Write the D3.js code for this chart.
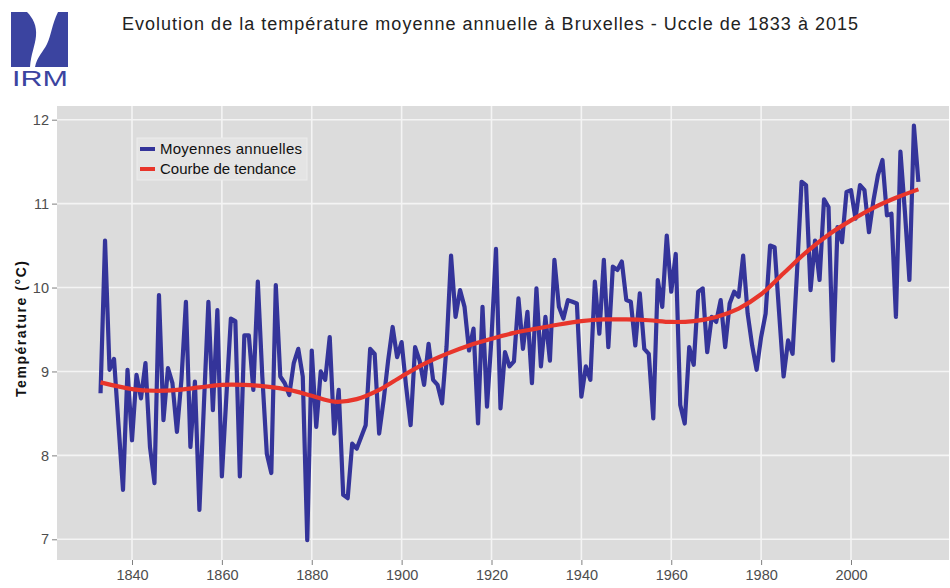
<!DOCTYPE html>
<html>
<head>
<meta charset="utf-8">
<script src="https://cdn.jsdelivr.net/npm/d3@7"></script>
<style>
  body { margin: 0; background: #fff; }
  text { font-family: "Liberation Sans", Arial, sans-serif; }
</style>
</head>
<body>
<script>
// annual mean temperature, Uccle
var startYear = 1833, endYear = 2015;
var temps = [
  8.74, 10.56, 9.02, 9.15, 8.36, 7.59, 9.02, 8.18, 8.96, 8.68,   // 1833-1842
  9.10, 8.10, 7.67, 9.91, 8.42, 9.04, 8.86, 8.28, 8.90, 9.83,   // 1843-1852
  8.10, 8.88, 7.35, 8.60, 9.83, 8.54, 9.73, 7.75, 8.70, 9.63,   // 1853-1862
  9.60, 7.75, 9.43, 9.43, 8.78, 10.07, 8.94, 8.02, 7.79, 10.03, // 1863-1872
  8.94, 8.86, 8.72, 9.10, 9.27, 8.94, 6.99, 9.25, 8.34, 9.00,   // 1873-1882
  8.90, 9.41, 8.26, 8.78, 7.53, 7.49, 8.14, 8.08, 8.22, 8.36,   // 1883-1892
  9.27, 9.21, 8.26, 8.66, 9.13, 9.53, 9.17, 9.35, 8.82, 8.36,   // 1893-1902
  9.29, 9.13, 8.84, 9.33, 8.90, 8.84, 8.62, 9.30, 10.38, 9.65,  // 1903-1912
  9.97, 9.77, 9.25, 9.51, 8.38, 9.77, 8.58, 9.40, 10.46, 8.56,  // 1913-1922
  9.23, 9.06, 9.12, 9.87, 9.27, 9.71, 8.86, 9.99, 9.06, 9.65,   // 1923-1932
  9.13, 10.33, 9.77, 9.63, 9.85, 9.83, 9.81, 8.70, 9.06, 8.90,  // 1933-1942
  10.07, 9.45, 10.33, 9.29, 10.25, 10.21, 10.31, 9.85, 9.83, 9.31, // 1943-1952
  9.93, 9.27, 9.21, 8.44, 10.09, 9.77, 10.62, 9.95, 10.40, 8.60, // 1953-1962
  8.38, 9.29, 9.08, 9.95, 9.99, 9.23, 9.65, 9.59, 9.85, 9.29,   // 1963-1972
  9.81, 9.95, 9.89, 10.38, 9.69, 9.31, 9.02, 9.41, 9.69, 10.50, // 1973-1982
  10.48, 9.70, 8.94, 9.37, 9.21, 10.20, 11.26, 11.22, 9.97, 10.56, // 1983-1992
  10.09, 11.05, 10.96, 9.13, 10.72, 10.54, 11.14, 11.16, 10.82, 11.22, // 1993-2002
  11.16, 10.66, 11.04, 11.34, 11.52, 10.86, 10.88, 9.65, 11.62, 10.90, // 2003-2012
  10.09, 11.93, 11.26                                            // 2013-2015
];
var years = d3.range(startYear, endYear + 1);

// smoothed trend curve
var trendYears = [1833, 1840, 1845, 1850, 1855, 1860, 1865, 1870, 1875, 1880, 1885, 1890, 1895,
  1900, 1905, 1910, 1915, 1920, 1925, 1930, 1935, 1940, 1945, 1950, 1955, 1960, 1965,
  1970, 1975, 1980, 1985, 1990, 1995, 2000, 2005, 2010, 2015];
var trendVals = [8.87, 8.79, 8.77, 8.78, 8.81, 8.84, 8.84, 8.82, 8.78, 8.71, 8.64, 8.67, 8.78,
  8.94, 9.09, 9.21, 9.31, 9.39, 9.46, 9.51, 9.56, 9.60, 9.62, 9.62, 9.61, 9.59, 9.60,
  9.65, 9.75, 9.92, 10.17, 10.42, 10.63, 10.80, 10.95, 11.07, 11.17];

var xTicks = [1840, 1860, 1880, 1900, 1920, 1940, 1960, 1980, 2000];
var yTicks = [7, 8, 9, 10, 11, 12];
var legendLabels = ["Moyennes annuelles", "Courbe de tendance"];

var W = 950, H = 588;
var panel = {left: 57, right: 949, top: 106, bottom: 560};

var svg = d3.select("body").append("svg")
    .attr("width", W)
    .attr("height", H);

var x = d3.scaleLinear().domain([1840, 2000]).range([132, 851]);
var y = d3.scaleLinear().domain([7, 12]).range([539.3, 119.7]);

// panel background
svg.append("rect")
    .attr("x", panel.left).attr("y", panel.top)
    .attr("width", panel.right - panel.left).attr("height", panel.bottom - panel.top)
    .attr("fill", "#dcdcdc");

// grid
svg.append("g").selectAll("line").data(yTicks).enter().append("line")
    .attr("x1", panel.left).attr("x2", panel.right)
    .attr("y1", function(d) { return y(d); }).attr("y2", function(d) { return y(d); })
    .attr("stroke", "#f4f4f4").attr("stroke-width", 1.6);
svg.append("g").selectAll("line").data(xTicks).enter().append("line")
    .attr("y1", panel.top).attr("y2", panel.bottom)
    .attr("x1", function(d) { return x(d); }).attr("x2", function(d) { return x(d); })
    .attr("stroke", "#f4f4f4").attr("stroke-width", 1.6);

// axes
var xAxis = d3.axisBottom(x).tickValues(xTicks).tickFormat(d3.format("d")).tickSize(5).tickPadding(5);
var gx = svg.append("g").attr("transform", "translate(0," + panel.bottom + ")").call(xAxis);
var yAxis = d3.axisLeft(y).tickValues(yTicks).tickFormat(d3.format("d")).tickSize(5).tickPadding(3);
var gy = svg.append("g").attr("transform", "translate(" + panel.left + ",0)").call(yAxis);
[gx, gy].forEach(function(g) {
    g.select(".domain").remove();
    g.selectAll(".tick line").attr("stroke", "#7f7f7f");
    g.selectAll(".tick text").attr("fill", "#4d4d4d")
        .style("font-size", "14.5px").style("font-family", "'Liberation Sans', Arial, sans-serif");
});

// y title
svg.append("text")
    .attr("transform", "translate(26," + 329 + ") rotate(-90)")
    .attr("text-anchor", "middle")
    .style("font-size", "14px").style("font-weight", "bold")
    .attr("textLength", 136).attr("lengthAdjust", "spacing")
    .attr("fill", "#111")
    .text("Température (°C)");

// lines
svg.append("clipPath").attr("id", "clip").append("rect")
    .attr("x", panel.left).attr("y", panel.top)
    .attr("width", panel.right - panel.left).attr("height", panel.bottom - panel.top);

var line = d3.line()
    .x(function(d, i) { return x(years[i]); })
    .y(function(d) { return y(d); });

svg.append("path")
    .datum(temps)
    .attr("clip-path", "url(#clip)")
    .attr("d", line)
    .attr("fill", "none")
    .attr("stroke", "#34349a")
    .attr("stroke-width", 4.2)
    .attr("stroke-linejoin", "round");

var trendLine = d3.line()
    .x(function(d, i) { return x(trendYears[i]); })
    .y(function(d) { return y(d); })
    .curve(d3.curveCatmullRom);

svg.append("path")
    .datum(trendVals)
    .attr("d", trendLine)
    .attr("fill", "none")
    .attr("stroke", "#e8352b")
    .attr("stroke-width", 4.2);

// legend
var legend = svg.append("g").attr("transform", "translate(137,138)");
legend.append("rect")
    .attr("width", 170).attr("height", 42)
    .attr("fill", "#e4e4e4").attr("stroke", "#ececec");
var colors = ["#34349a", "#e8352b"];
legendLabels.forEach(function(lab, i) {
    legend.append("line")
        .attr("x1", 3).attr("x2", 18)
        .attr("y1", 11 + i * 20).attr("y2", 11 + i * 20)
        .attr("stroke", colors[i]).attr("stroke-width", 4);
    legend.append("text")
        .attr("x", 23).attr("y", 16 + i * 20)
        .style("font-size", "15px").attr("fill", "#111")
        .attr("textLength", i == 0 ? 142 : 136).attr("lengthAdjust", "spacing")
        .text(lab);
});

// title
svg.append("text")
    .attr("x", 490).attr("y", 30)
    .attr("text-anchor", "middle")
    .style("font-size", "18px").attr("fill", "#222")
    .attr("textLength", 736).attr("lengthAdjust", "spacing")
    .text("Evolution de la température moyenne annuelle à Bruxelles - Uccle de 1833 à 2015");

// IRM logo
var logo = svg.append("g");
logo.append("rect").attr("x", 11).attr("y", 12).attr("width", 57).attr("height", 55).attr("fill", "#3b44a0");
logo.append("path")
    .attr("d", "M27,12 C33,18 37,26 36,36 C35,46 31,54 30,67 L35,67 C37,57 43,52 47,44 C51,36 52,24 58,12 Z")
    .attr("fill", "#fff");
logo.append("text")
    .attr("x", 12).attr("y", 86)
    .style("font-size", "22px")
    .attr("textLength", 56).attr("lengthAdjust", "spacingAndGlyphs")
    .attr("fill", "#3b44a0")
    .text("IRM");
</script>
</body>
</html>
